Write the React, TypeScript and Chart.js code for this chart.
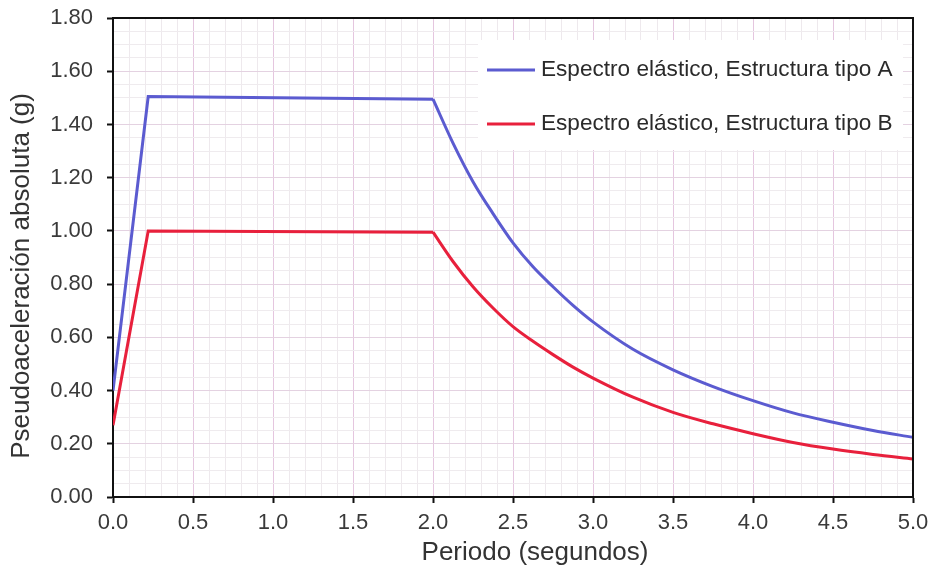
import React, { useEffect, useRef } from "react";
import { Chart, registerables } from "chart.js";

Chart.register(...registerables);

// Ramp + plateau (straight segments)
const plateauPeriods = [0, 0.22, 2.0];
const plateauA = [0.40, 1.505, 1.495];
const plateauB = [0.27, 1.0, 0.995];
// Descending branch (smooth curve)
const descPeriods = [2.0, 2.125, 2.25, 2.375, 2.5, 2.625, 2.75, 2.875, 3.0, 3.25, 3.5, 3.75, 4.0, 4.25, 4.5, 4.75, 5.0];
const descA = [1.495, 1.33, 1.185, 1.065, 0.955, 0.865, 0.79, 0.72, 0.658, 0.555, 0.478, 0.415, 0.362, 0.316, 0.281, 0.25, 0.224];
const descB = [0.995, 0.885, 0.79, 0.71, 0.64, 0.585, 0.535, 0.488, 0.447, 0.375, 0.318, 0.275, 0.238, 0.205, 0.18, 0.16, 0.143];

const seriesLabels = ["Espectro elástico, Estructura tipo A", "Espectro elástico, Estructura tipo B"];
const seriesColors = ["#5b5bd0", "#e8203c"];
const xTitle = "Periodo (segundos)";
const yTitle = "Pseudoaceleración absoluta (g)";

const FONT = "'Liberation Sans', Arial, sans-serif";

const isMult = (v: number, step: number) => Math.abs(Math.round(v / step) * step - v) < 1e-6;

const frameLegendTitles = {
  id: "frameLegendTitles",
  afterDraw(chart: any) {
    const { ctx, chartArea } = chart;
    ctx.save();
    // frame top/right
    ctx.strokeStyle = "#111";
    ctx.lineWidth = 2;
    ctx.beginPath();
    ctx.moveTo(chartArea.left, chartArea.top);
    ctx.lineTo(chartArea.right, chartArea.top);
    ctx.lineTo(chartArea.right, chartArea.bottom);
    ctx.stroke();
    // legend
    ctx.fillStyle = "#ffffff";
    ctx.fillRect(478, 40, 425, 110);
    const ys = [70, 124];
    [0, 1].forEach((i) => {
      ctx.strokeStyle = seriesColors[i];
      ctx.lineWidth = 3;
      ctx.beginPath();
      ctx.moveTo(487, ys[i]);
      ctx.lineTo(535, ys[i]);
      ctx.stroke();
      ctx.fillStyle = "#2a2a2a";
      ctx.font = "22.6px " + FONT;
      ctx.textBaseline = "middle";
      ctx.textAlign = "left";
      ctx.fillText(seriesLabels[i], 541, ys[i]);
    });
    // axis titles
    ctx.fillStyle = "#333";
    ctx.font = "26px " + FONT;
    ctx.textAlign = "center";
    ctx.textBaseline = "middle";
    ctx.fillText(xTitle, 535, 553);
    ctx.translate(22, 276);
    ctx.rotate(-Math.PI / 2);
    ctx.fillText(yTitle, 0, 0);
    ctx.restore();
  },
};

export default function App() {
  const ref = useRef<HTMLCanvasElement | null>(null);
  useEffect(() => {
    document.body.style.margin = "0";
    const c = ref.current!;
    const mk = (periods: number[], vals: number[], color: string, label: string, smooth: boolean) => ({
      label,
      data: periods.map((t, i) => ({ x: t, y: vals[i] })),
      borderColor: color,
      borderWidth: 3,
      pointRadius: 0,
      tension: 0,
      cubicInterpolationMode: smooth ? "monotone" : "default",
      fill: false,
    });
    const chart = new Chart(c, {
      type: "line",
      data: {
        datasets: [
          mk(plateauPeriods, plateauA, seriesColors[0], seriesLabels[0], false),
          mk(descPeriods, descA, seriesColors[0], seriesLabels[0], true),
          mk(plateauPeriods, plateauB, seriesColors[1], seriesLabels[1], false),
          mk(descPeriods, descB, seriesColors[1], seriesLabels[1], true),
        ] as any,
      },
      options: {
        animation: false,
        responsive: false,
        maintainAspectRatio: false,
        layout: { padding: { left: 0, top: 18, right: 18, bottom: 0 } },
        plugins: { legend: { display: false }, tooltip: { enabled: false } },
        scales: {
          x: {
            type: "linear",
            min: 0,
            max: 5,
            afterFit: (s: any) => { s.height = 78; s.paddingLeft = 0; s.paddingRight = 0; },
            ticks: {
              stepSize: 0.1,
              autoSkip: false,
              maxRotation: 0,
              padding: 7,
              color: "#3a3a3a",
              font: { family: FONT, size: 22 },
              callback: (v: any) => (isMult(Number(v), 0.5) ? Number(v).toFixed(1) : ""),
            },
            grid: {
              color: (ctx: any) => (isMult(ctx.tick.value, 0.5) ? "#e5c6df" : "#eee9ed"),
              lineWidth: 1,
              tickLength: 6,
              tickColor: (ctx: any) => (isMult(ctx.tick.value, 0.5) ? "#111" : "rgba(0,0,0,0)"),
              tickWidth: 2,
            },
            border: { color: "#111", width: 2 },
          },
          y: {
            type: "linear",
            min: 0,
            max: 1.8,
            afterFit: (s: any) => { s.width = 113; s.paddingTop = 0; s.paddingBottom = 0; },
            ticks: {
              stepSize: 0.05,
              autoSkip: false,
              padding: 14,
              color: "#3a3a3a",
              font: { family: FONT, size: 22 },
              callback: (v: any) => (isMult(Number(v), 0.2) ? Number(v).toFixed(2) : ""),
            },
            grid: {
              color: (ctx: any) => (isMult(ctx.tick.value, 0.2) ? "#e4d2e1" : "#efebee"),
              lineWidth: 1,
              tickLength: 6,
              tickColor: (ctx: any) => (isMult(ctx.tick.value, 0.2) ? "#111" : "rgba(0,0,0,0)"),
              tickWidth: 2,
            },
            border: { color: "#111", width: 2 },
          },
        },
      },
      plugins: [frameLegendTitles],
    });
    return () => chart.destroy();
  }, []);
  return (
    <div style={{ width: 931, height: 575, background: "#fff" }}>
      <canvas ref={ref} width={931} height={575} style={{ display: "block" }} />
    </div>
  );
}
